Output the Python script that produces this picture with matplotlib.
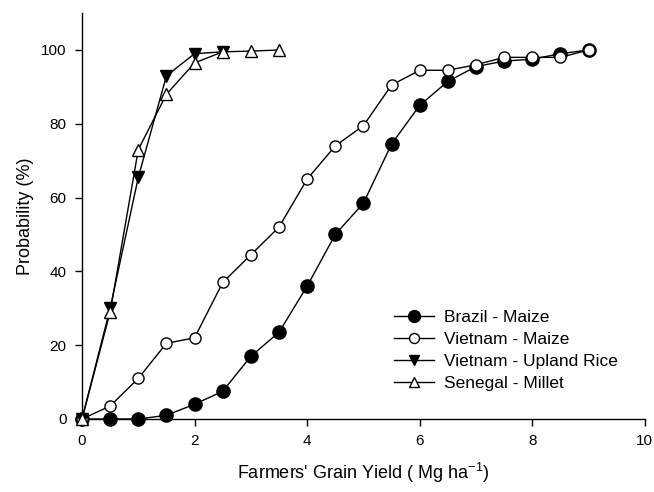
import matplotlib
matplotlib.use('Agg')
import matplotlib.pyplot as plt

plt.rcParams['font.family'] = ['Liberation Sans', 'DejaVu Sans']
plt.rcParams['mathtext.default'] = 'regular'

# cumulative probability of farmers' grain yield (Mg/ha)
brazil_x = [0, 0.5, 1, 1.5, 2, 2.5, 3, 3.5, 4, 4.5, 5, 5.5, 6, 6.5, 7, 7.5, 8, 8.5, 9]
brazil_y = [0, 0, 0, 1, 4, 7.5, 17, 23.5, 36, 50, 58.5, 74.5, 85, 91.5, 95.5, 97, 97.5, 99, 100]

vn_maize_x = [0, 0.5, 1, 1.5, 2, 2.5, 3, 3.5, 4, 4.5, 5, 5.5, 6, 6.5, 7, 7.5, 8, 8.5, 9]
vn_maize_y = [0, 3.5, 11, 20.5, 22, 37, 44.5, 52, 65, 74, 79.5, 90.5, 94.5, 94.5, 96, 98, 98, 98, 100]

vn_rice_x = [0, 0.5, 1, 1.5, 2, 2.5]
vn_rice_y = [0, 30, 65.5, 93, 99, 99.5]

senegal_x = [0, 0.5, 1, 1.5, 2, 2.5, 3, 3.5]
senegal_y = [0, 29, 73, 88, 96.5, 99.5, 99.7, 100]

fig = plt.figure(figsize=(6.54, 4.92), dpi=100)
ax = fig.add_axes([0.1254, 0.1484, 0.8606, 0.825])

kw = dict(color='black', lw=1.0, clip_on=False, zorder=3)
ax.plot(brazil_x, brazil_y, marker='o', ms=9.5, mfc='black', mec='black',
        label='Brazil - Maize', **kw)
ax.plot(vn_maize_x, vn_maize_y, marker='o', ms=8, mfc='white', mec='black',
        mew=1.0, label='Vietnam - Maize', **kw)
ax.plot(vn_rice_x, vn_rice_y, marker='v', ms=8, mfc='black', mec='black',
        label='Vietnam - Upland Rice', **kw)
ax.plot(senegal_x, senegal_y, marker='^', ms=8, mfc='white', mec='black',
        mew=1.0, label='Senegal - Millet', **kw)

ax.set_xlim(0, 10)
ax.set_ylim(0, 110)
ax.set_xticks([0, 2, 4, 6, 8, 10])
ax.set_yticks([0, 20, 40, 60, 80, 100])
ax.spines['top'].set_visible(False)
ax.spines['right'].set_visible(False)
for s in ('left', 'bottom'):
    ax.spines[s].set_linewidth(1.0)
ax.tick_params(direction='out', length=5, width=1.0, labelsize=11, pad=6)

ax.set_xlabel("Farmers' Grain Yield ( Mg ha$^{-1}$)", fontsize=13, labelpad=9)
ax.set_ylabel('Probability (%)', fontsize=13, labelpad=5)

ax.legend(loc='upper left', bbox_to_anchor=(0.542, 0.286), frameon=False,
          fontsize=12.5, handlelength=2.3, handletextpad=0.57, labelspacing=0.4,
          borderaxespad=0, markerscale=0.9)

fig.savefig('out.png', dpi=100)
